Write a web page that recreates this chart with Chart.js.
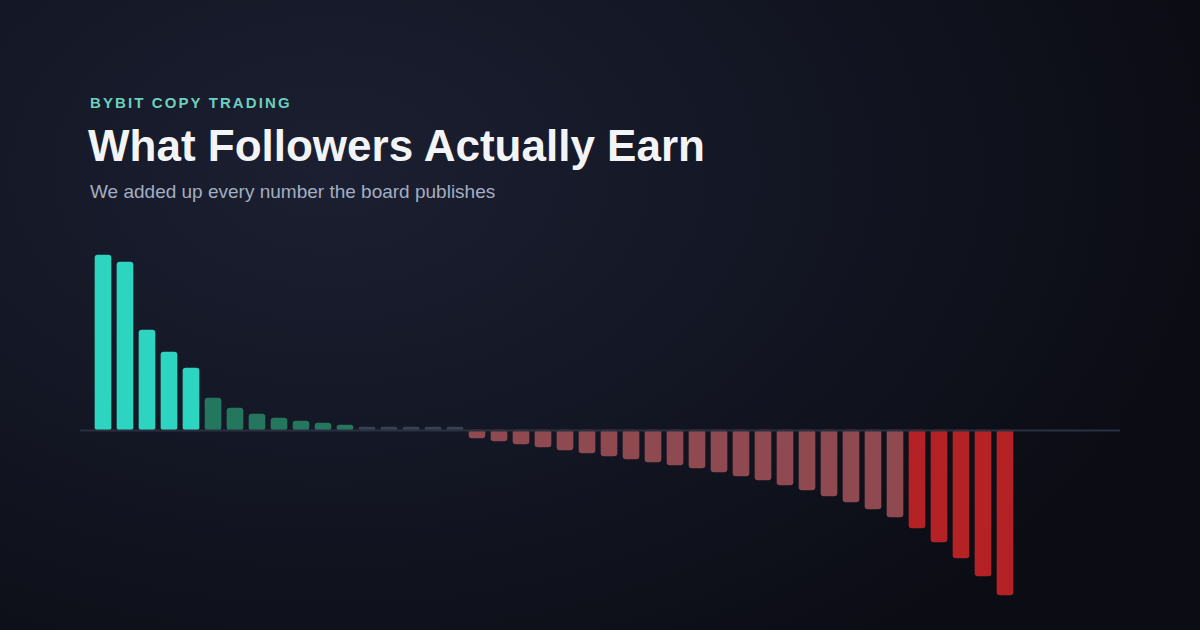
<!DOCTYPE html>
<html>
<head>
<meta charset="utf-8">
<script src="https://cdn.jsdelivr.net/npm/chart.js@4.4.1/dist/chart.umd.min.js"></script>
<style>
  html, body { margin: 0; padding: 0; }
  body {
    width: 1200px; height: 630px; overflow: hidden; position: relative;
    background: radial-gradient(ellipse 900px 600px at 330px 170px, #1b1f31 0%, #141725 45%, #0b0c14 100%);
    font-family: "Liberation Sans", Arial, sans-serif;
  }
  .kicker { position: absolute; left: 90px; top: 94px; font-size: 15px; font-weight: bold; letter-spacing: 2.1px; color: #6ccfbd; }
  .title { position: absolute; left: 88px; top: 121px; font-size: 44px; font-weight: bold; color: #f3f4f8; }
  .sub { position: absolute; left: 90px; top: 181px; font-size: 19px; color: #a3aec2; }
  #wrap { position: absolute; left: 80px; top: 250px; width: 1040px; height: 360px; }
</style>
</head>
<body>
<div class="kicker">BYBIT COPY TRADING</div>
<div class="title">What Followers Actually Earn</div>
<div class="sub">We added up every number the board publishes</div>
<div id="wrap"><canvas id="mycanvas"></canvas></div>
<script>
// follower outcomes, sorted best to worst
var strong = [175, 168, 100, 78, 62];
var small = [32, 22, 16, 12, 9, 7, 5];
var flat = [3, 3, 3, 3, 3];
var losing = [-8, -11, -14, -17, -20, -23, -26, -29, -32, -35, -38, -42, -46, -50, -55, -60, -66, -72, -79, -87];
var worst = [-98, -112, -128, -146, -165];

var values = strong.concat(small, flat, losing, worst);
var labels = [];
var colors = [];
for (var i in values) {
	labels.push('#' + (Number(i) + 1));
}
strong.forEach(function(){ colors.push('#2dd4bf'); });
small.forEach(function(){ colors.push('#24765f'); });
flat.forEach(function(){ colors.push('#394154'); });
losing.forEach(function(){ colors.push('#8e4a50'); });
worst.forEach(function(){ colors.push('#b52225'); });

// zero line spanning the full plot width
var zeroLine = {
	id: 'zeroLine',
	afterDatasetsDraw: function(chart){
		var ctx = chart.ctx;
		var y = chart.scales.y.getPixelForValue(0) + 0.5;
		ctx.save();
		ctx.strokeStyle = '#2b3040';
		ctx.lineWidth = 2;
		ctx.beginPath();
		ctx.moveTo(0, y);
		ctx.lineTo(chart.width, y);
		ctx.stroke();
		ctx.restore();
	}
};

var ctx = document.getElementById('mycanvas');
var barGraph = new Chart(ctx, {
	type: 'bar',
	data: {
		labels: labels,
		datasets: [{
			label: 'Follower PnL',
			data: values,
			backgroundColor: colors,
			borderRadius: 3,
			borderSkipped: false,
			barThickness: 16,
			categoryPercentage: 1,
			barPercentage: 1
		}]
	},
	options: {
		responsive: true,
		maintainAspectRatio: false,
		animation: false,
		layout: { padding: { left: 12, right: 104, top: 0, bottom: 0 } },
		plugins: { legend: { display: false }, tooltip: { enabled: false } },
		scales: {
			x: { display: false },
			y: { display: false, min: -180, max: 180 }
		}
	},
	plugins: [zeroLine]
});
</script>
</body>
</html>
